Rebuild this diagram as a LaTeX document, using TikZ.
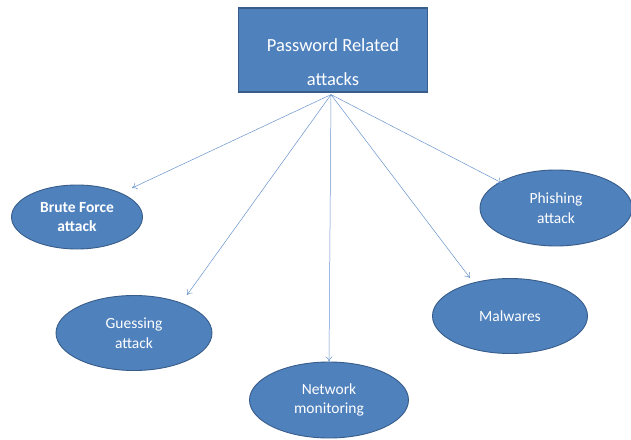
\documentclass[tikz,border=0pt]{standalone}
\usepackage{fontspec}
\setmainfont{Carlito}
\usetikzlibrary{shapes.geometric,arrows.meta,calc}
\definecolor{boxfill}{HTML}{4F81BD}
\definecolor{boxedge}{HTML}{385D8A}
\definecolor{linkblue}{HTML}{6A95CC}
\tikzset{
  topbox/.style={draw=boxedge, line width=1.2pt, fill=boxfill,
    minimum width=189pt, minimum height=84pt, inner sep=0pt},
  toplabel/.style={text=white, inner sep=0pt, align=center,
    font=\fontsize{18.5}{34}\selectfont},
  leaf/.style={ellipse, draw=boxedge, line width=0.9pt, fill=boxfill, text=white,
    inner sep=0pt, font=\fontsize{15.5}{19.5}\selectfont, align=center},
  link/.style={draw=linkblue, line width=0.5pt, -{To[length=5pt,width=7pt]}}
}
\begin{document}
\begin{tikzpicture}[x=1pt,y=-1pt]
  \useasboundingbox (0,0) rectangle (631,439);
  \fill[white] (0,0) rectangle (631,439);

  % root box, with its two-line caption set a little below centre
  \node[topbox] (root) at (333,50) {};
  \node[toplabel] (rootlabel) at (333,62) {Password Related\\attacks};

  \node[leaf, minimum width=131pt, minimum height=64pt] (brute) at (77,217)
    {\bfseries Brute Force\\\bfseries attack};
  \node[leaf, minimum width=156pt, minimum height=75pt] (guess) at (134,333)
    {Guessing\\attack};
  \node[leaf, minimum width=159pt, minimum height=76pt] (net) at (329,400)
    {Network\\monitoring};
  \node[leaf, minimum width=155pt, minimum height=75pt] (mal) at (510,316)
    {Malwares};
  \node[leaf, minimum width=152pt, minimum height=76pt] (phish) at (556,208)
    {Phishing\\attack};

  % all connectors leave from one point under the root box
  \coordinate (hub) at ($(root.south)+(-2,2)$);
  \draw[link] (hub) -- ($(brute.center)+(55,-29)$);
  \draw[link] (hub) -- ($(guess.center)+(53,-38)$);
  \draw[link] (hub) -- (net.north);
  \draw[link] (hub) -- ($(mal.center)+(-40,-38)$);
  \draw[link] (hub) -- ($(phish.center)+(-54,-25)$);
\end{tikzpicture}
\end{document}
